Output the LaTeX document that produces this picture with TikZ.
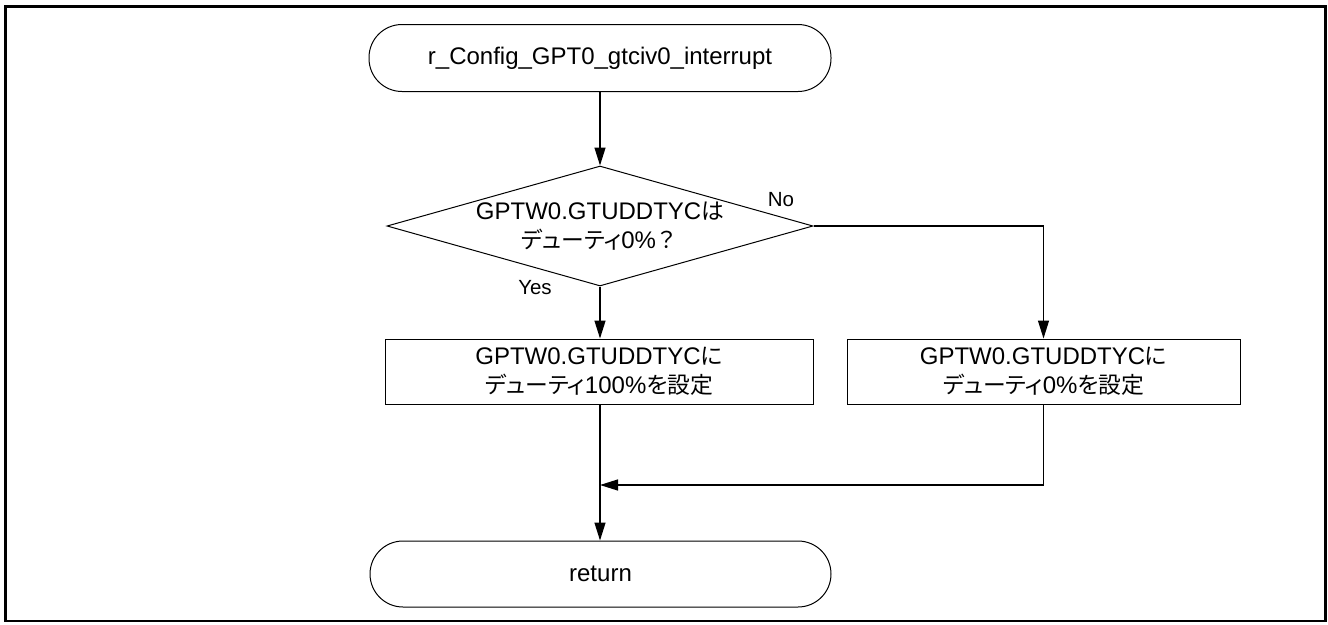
\documentclass[tikz,border=0pt]{standalone}
\usepackage{fontspec}
\setmainfont{Liberation Sans}
\newfontfamily\jp[Scale=0.95,RawFeature={+palt}]{Noto Sans CJK JP}
\newfontfamily\jpf[Scale=0.95]{Noto Sans CJK JP}
\usetikzlibrary{arrows.meta,shapes.geometric}
\tikzset{
  shapeline/.style={draw, line width=1pt, inner sep=0pt, align=center,
    font=\fontsize{24}{29}\selectfont},
  term/.style={shapeline, rounded corners=33pt, minimum width=462pt, minimum height=67pt},
  proc/.style={shapeline, rectangle, minimum height=65pt},
  decision/.style={shapeline, diamond, aspect=3.55, minimum width=426pt, minimum height=120pt},
  conn/.style={line width=1.3pt, -{Triangle[length=18pt,width=11pt]}},
  lbl/.style={font=\fontsize{20.5}{24}\selectfont, inner sep=0pt}
}
\begin{document}
\begin{tikzpicture}[x=1pt,y=-1pt]
\useasboundingbox (0,0) rectangle (1328,624);
\draw[line width=2.5pt] (5.5,6.5) rectangle (1325.5,621);

\node[term] (start) at (600,58) {r\_Config\_GPT0\_gtciv0\_interrupt};
\node[decision] (dec) at (600,226) {GPTW0.GTUDDTYC{\jp は}\\{\jp デューティ}0\%{\jpf ？}};
\node[proc, minimum width=428pt] (yesbox) at (599,371.5) {GPTW0.GTUDDTYC{\jp に}\\{\jp デューティ}100\%{\jp を設定}};
\node[proc, minimum width=393pt] (nobox) at (1043.5,371.5) {GPTW0.GTUDDTYC{\jp に}\\{\jp デューティ}0\%{\jp を設定}};
\node[term, minimum width=461pt, minimum height=66pt] (ret) at (600.5,574) {return};

\node[lbl] (nolbl) at (781,200) {No};
\node[lbl] (yeslbl) at (535,288) {Yes};

\coordinate (merge) at (600,485);

\draw[conn] (start.south -| dec.north) -- (dec.north);
\draw[conn] (dec.south) -- (dec.south |- yesbox.north);
\draw[conn] (dec.east) -| (nobox.north);
\draw[conn] (yesbox.south -| merge) -- (ret.north -| merge);
\draw[conn] (nobox.south) |- (merge);
\end{tikzpicture}
\end{document}
